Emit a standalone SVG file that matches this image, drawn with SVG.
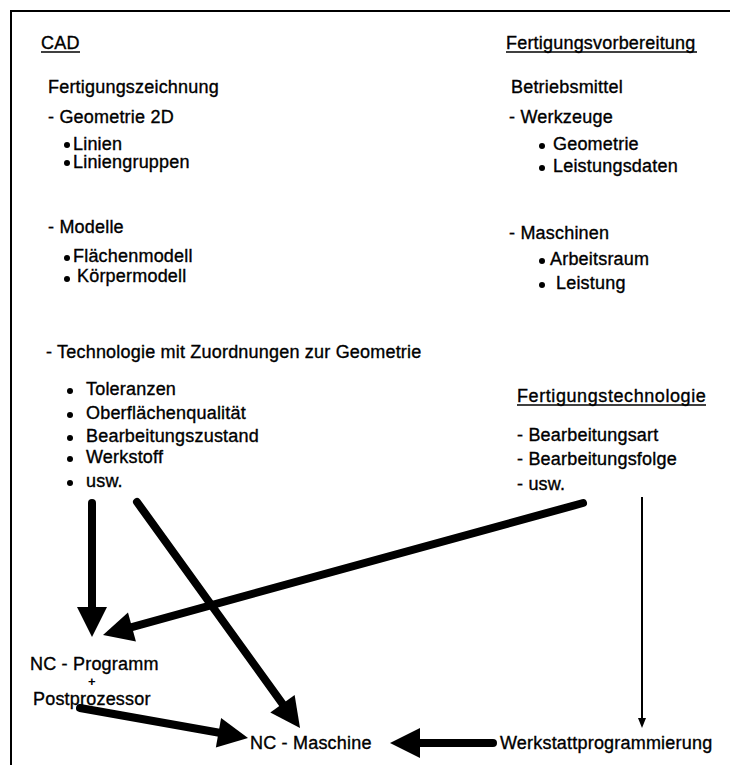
<svg xmlns="http://www.w3.org/2000/svg" width="730" height="765" viewBox="0 0 730 765">
  <style>
    text { font-family: "Liberation Sans", Arial, sans-serif; font-size: 18px; letter-spacing: 0.2px; fill: #000; stroke: #000; stroke-width: 0.35px; }
    .plus { font-size: 13px; font-weight: bold; stroke-width: 0; }
    .ul { stroke: #000; stroke-width: 1.4; }
    .frame { stroke: #000; stroke-width: 2; fill: none; }
    .thick { stroke: #000; stroke-width: 8; stroke-linecap: round; fill: none; marker-end: url(#bigHead); }
    .thin { stroke: #000; stroke-width: 2; fill: none; marker-end: url(#smallHead); }
  </style>
  <defs>
    <marker id="bigHead" markerUnits="userSpaceOnUse" markerWidth="30" markerHeight="30" refX="18" refY="15" orient="auto" overflow="visible">
      <path d="M0,0 L30,15 L0,30 z" fill="#000"/>
    </marker>
    <marker id="smallHead" markerUnits="userSpaceOnUse" markerWidth="10" markerHeight="8" refX="7" refY="4" orient="auto" overflow="visible">
      <path d="M0,0 L10,4 L0,8 z" fill="#000"/>
    </marker>
  </defs>

  <rect width="730" height="765" fill="#fff"/>

  <!-- frame: top and left edges -->
  <path class="frame" d="M730,11 L11,11 L11,765"/>

  <!-- CAD block -->
  <g id="cad">
    <text x="41" y="49">CAD</text>
    <line class="ul" x1="41" y1="52" x2="80" y2="52"/>
    <text x="48" y="93">Fertigungszeichnung</text>
    <text x="48" y="123">- Geometrie 2D</text>
    <circle cx="67" cy="145" r="3"/>
    <text x="73" y="150">Linien</text>
    <circle cx="67" cy="163" r="3"/>
    <text x="73" y="168">Liniengruppen</text>
    <text x="48" y="233">-  Modelle</text>
    <circle cx="67" cy="258" r="3"/>
    <text x="73" y="262">Flächenmodell</text>
    <circle cx="67" cy="279" r="3"/>
    <text x="77" y="282">Körpermodell</text>
  </g>

  <!-- Technologie block -->
  <g id="technologie">
    <text x="46" y="358">- Technologie mit Zuordnungen zur Geometrie</text>
    <circle cx="70" cy="391" r="3"/>
    <text x="86" y="395">Toleranzen</text>
    <circle cx="70" cy="415" r="3"/>
    <text x="86" y="419">Oberflächenqualität</text>
    <circle cx="70" cy="438" r="3"/>
    <text x="86" y="442">Bearbeitungszustand</text>
    <circle cx="70" cy="459" r="3"/>
    <text x="86" y="463">Werkstoff</text>
    <circle cx="70" cy="483" r="3"/>
    <text x="86" y="487">usw.</text>
  </g>

  <!-- Fertigungsvorbereitung block -->
  <g id="fertigungsvorbereitung">
    <text x="506" y="49">Fertigungsvorbereitung</text>
    <line class="ul" x1="506" y1="52" x2="697" y2="52"/>
    <text x="511" y="93">Betriebsmittel</text>
    <text x="509" y="123">- Werkzeuge</text>
    <circle cx="542" cy="146" r="3"/>
    <text x="553" y="150">Geometrie</text>
    <circle cx="542" cy="168" r="3"/>
    <text x="553" y="172">Leistungsdaten</text>
    <text x="509" y="239">- Maschinen</text>
    <circle cx="542" cy="261" r="3"/>
    <text x="550" y="265">Arbeitsraum</text>
    <circle cx="542" cy="285" r="3"/>
    <text x="556" y="289">Leistung</text>
  </g>

  <!-- Fertigungstechnologie block -->
  <g id="fertigungstechnologie">
    <text x="517" y="402" textLength="189" lengthAdjust="spacing">Fertigungstechnologie</text>
    <line class="ul" x1="517" y1="405" x2="706" y2="405"/>
    <text x="517" y="441">- Bearbeitungsart</text>
    <text x="517" y="465">- Bearbeitungsfolge</text>
    <text x="517" y="490">- usw.</text>
  </g>

  <!-- NC program node -->
  <g id="nc-programm">
    <text x="30" y="670">NC - Programm</text>
    <text class="plus" x="92" y="686" text-anchor="middle">+</text>
    <text x="33" y="705">Postprozessor</text>
  </g>

  <!-- NC machine node -->
  <g id="nc-maschine">
    <text x="250" y="749">NC - Maschine</text>
  </g>

  <!-- shop-floor programming node -->
  <g id="werkstattprogrammierung">
    <text x="500" y="749">Werkstattprogrammierung</text>
  </g>

  <!-- connectors -->
  <g id="connectors">
    <line class="thick" x1="92" y1="503" x2="92" y2="625" stroke-width="9"/>
    <line class="thick" x1="583" y1="503" x2="114.6" y2="631.8"/>
    <line class="thick" x1="137" y1="502" x2="293" y2="718.3"/>
    <line class="thick" x1="80" y1="708" x2="236.2" y2="735.8"/>
    <line class="thick" x1="493" y1="743" x2="402" y2="743" stroke-width="7"/>
    <line class="thin" x1="642" y1="497" x2="642" y2="725"/>
  </g>
</svg>
